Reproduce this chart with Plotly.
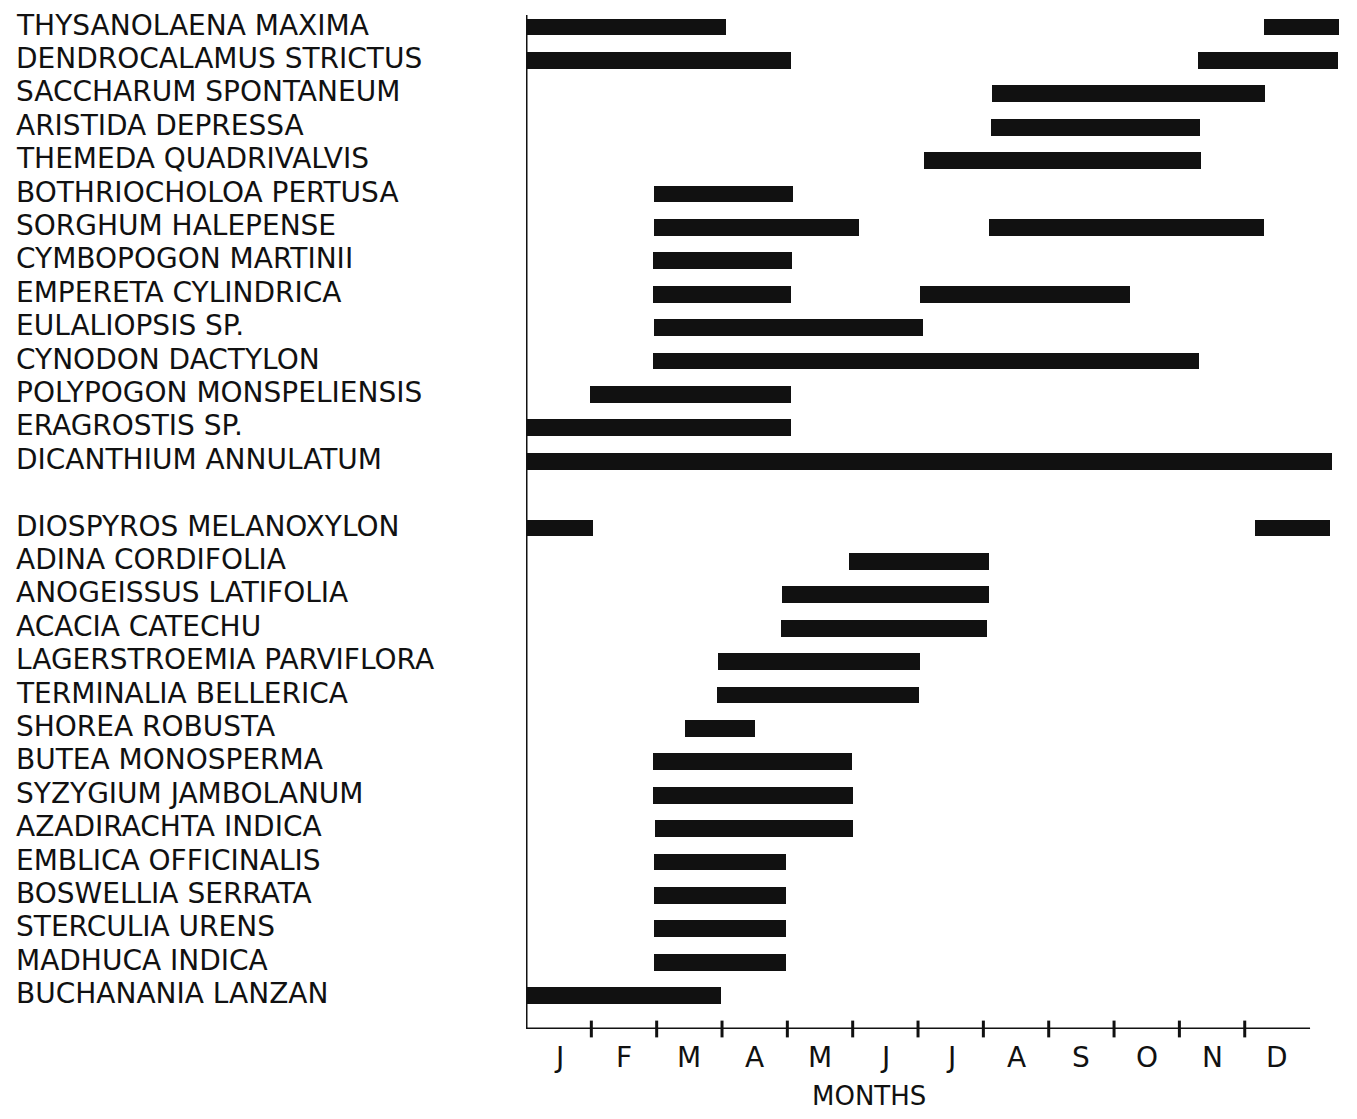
import plotly.graph_objects as go

# ---- data -------------------------------------------------------------
grasses = [
    "THYSANOLAENA MAXIMA", "DENDROCALAMUS STRICTUS", "SACCHARUM SPONTANEUM",
    "ARISTIDA DEPRESSA", "THEMEDA QUADRIVALVIS", "BOTHRIOCHOLOA PERTUSA",
    "SORGHUM HALEPENSE", "CYMBOPOGON MARTINII", "EMPERETA CYLINDRICA",
    "EULALIOPSIS SP.", "CYNODON DACTYLON", "POLYPOGON MONSPELIENSIS",
    "ERAGROSTIS SP.", "DICANTHIUM ANNULATUM",
]
trees = [
    "DIOSPYROS MELANOXYLON", "ADINA CORDIFOLIA", "ANOGEISSUS LATIFOLIA",
    "ACACIA CATECHU", "LAGERSTROEMIA PARVIFLORA", "TERMINALIA BELLERICA",
    "SHOREA ROBUSTA", "BUTEA MONOSPERMA", "SYZYGIUM JAMBOLANUM",
    "AZADIRACHTA INDICA", "EMBLICA OFFICINALIS", "BOSWELLIA SERRATA",
    "STERCULIA URENS", "MADHUCA INDICA", "BUCHANANIA LANZAN",
]

# flowering periods, in months from the start of January
bar_species = [
    "THYSANOLAENA MAXIMA", "THYSANOLAENA MAXIMA",
    "DENDROCALAMUS STRICTUS", "DENDROCALAMUS STRICTUS",
    "SACCHARUM SPONTANEUM", "ARISTIDA DEPRESSA", "THEMEDA QUADRIVALVIS",
    "BOTHRIOCHOLOA PERTUSA", "SORGHUM HALEPENSE", "SORGHUM HALEPENSE",
    "CYMBOPOGON MARTINII", "EMPERETA CYLINDRICA", "EMPERETA CYLINDRICA",
    "EULALIOPSIS SP.", "CYNODON DACTYLON", "POLYPOGON MONSPELIENSIS",
    "ERAGROSTIS SP.", "DICANTHIUM ANNULATUM",
    "DIOSPYROS MELANOXYLON", "DIOSPYROS MELANOXYLON",
    "ADINA CORDIFOLIA", "ANOGEISSUS LATIFOLIA", "ACACIA CATECHU",
    "LAGERSTROEMIA PARVIFLORA", "TERMINALIA BELLERICA", "SHOREA ROBUSTA",
    "BUTEA MONOSPERMA", "SYZYGIUM JAMBOLANUM", "AZADIRACHTA INDICA",
    "EMBLICA OFFICINALIS", "BOSWELLIA SERRATA", "STERCULIA URENS",
    "MADHUCA INDICA", "BUCHANANIA LANZAN",
]
bar_start = [
    0.00, 11.30,
    0.00, 10.28,
    7.13, 7.11, 6.09,
    1.96, 1.96, 7.09,
    1.95, 1.94, 6.03,
    1.96, 1.95, 0.98,
    0.00, 0.00,
    0.00, 11.15,
    4.94, 3.92, 3.91,
    2.94, 2.93, 2.44,
    1.94, 1.95, 1.97,
    1.96, 1.96, 1.96,
    1.96, 0.00,
]
bar_end = [
    3.06, 12.45,
    4.06, 12.42,
    11.31, 10.32, 10.33,
    4.09, 5.09, 11.30,
    4.07, 4.06, 9.25,
    6.07, 10.30, 4.06,
    4.06, 12.34,
    1.03, 12.30,
    7.09, 7.08, 7.05,
    6.03, 6.02, 3.51,
    4.99, 5.00, 5.00,
    3.98, 3.98, 3.98,
    3.98, 2.98,
]

month_labels = ["J", "F", "M", "A", "M", "J", "J", "A", "S", "O", "N", "D"]
axis_title = "MONTHS"

# ---- layout of rows (one blank row between the two groups) ----------------
row_pos = {}
for i, name in enumerate(grasses):
    row_pos[name] = i
for i, name in enumerate(trees):
    row_pos[name] = len(grasses) + 1 + i
n_rows = len(grasses) + 1 + len(trees)
y_bottom = n_rows          # position of the month axis line
y_top = -0.57

INK = "#111111"
FONT = "DejaVu Sans"

fig = go.Figure()

fig.add_trace(go.Bar(
    orientation="h",
    y=[row_pos[s] for s in bar_species],
    base=bar_start,
    x=[e - s for s, e in zip(bar_start, bar_end)],
    width=0.5,
    marker=dict(color=INK, line=dict(width=0)),
    hoverinfo="skip",
    showlegend=False,
))

# month boundary ticks on the axis line
fig.add_trace(go.Scatter(
    x=list(range(1, 12)),
    y=[y_bottom] * 11,
    mode="markers",
    marker=dict(symbol="line-ns", size=12, line=dict(width=3, color=INK)),
    cliponaxis=False,
    hoverinfo="skip",
    showlegend=False,
))

# axis lines
fig.add_shape(type="line", x0=0, x1=0, y0=-0.36, y1=y_bottom,
              xref="x", yref="y", line=dict(color=INK, width=3))
fig.add_shape(type="line", x0=0, x1=12, y0=y_bottom, y1=y_bottom,
              xref="x", yref="y", line=dict(color=INK, width=3))

annotations = []
for name, pos in row_pos.items():
    annotations.append(dict(
        text=name, xref="paper", x=0, xanchor="left", xshift=-512,
        yref="y", y=pos, yanchor="middle", yshift=2,
        showarrow=False, font=dict(family=FONT, size=28, color=INK),
    ))
for i, m in enumerate(month_labels):
    annotations.append(dict(
        text=m, xref="x", x=i + 0.5, xanchor="center",
        yref="paper", y=0, yanchor="top", yshift=-10,
        showarrow=False, font=dict(family=FONT, size=28, color=INK),
    ))
annotations.append(dict(
    text=axis_title, xref="x", x=5.25, xanchor="center",
    yref="paper", y=0, yanchor="top", yshift=-50,
    showarrow=False, font=dict(family=FONT, size=26, color=INK),
))

fig.update_layout(
    width=1341, height=1103,
    margin=dict(l=518, r=3, t=0, b=82, pad=0),
    paper_bgcolor="white", plot_bgcolor="white",
    bargap=0,
    annotations=annotations,
    xaxis=dict(range=[0, 12.55], showgrid=False, zeroline=False,
               showline=False, showticklabels=False, ticks=""),
    yaxis=dict(range=[y_bottom, y_top], showgrid=False, zeroline=False,
               showline=False, showticklabels=False, ticks=""),
)

fig.write_html("out.html")
